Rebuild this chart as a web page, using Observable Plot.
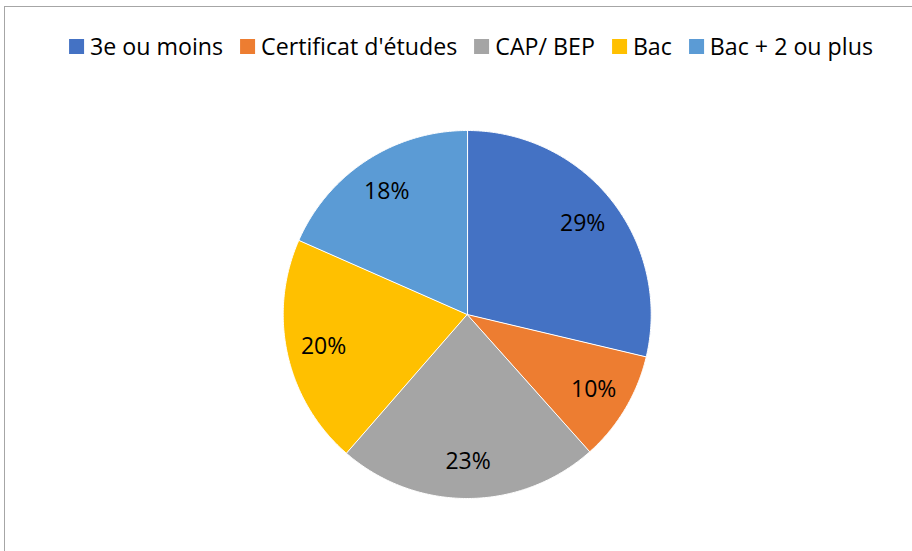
<!DOCTYPE html>
<html><head><meta charset="utf-8">
<script src="https://cdn.jsdelivr.net/npm/d3@7"></script>
<script src="https://cdn.jsdelivr.net/npm/@observablehq/plot@0.6"></script>
<style>
body{margin:0;background:#fff;font-family:"Open Sans",sans-serif;}
#wrap{position:relative;width:912px;height:551px;overflow:hidden;background:#fff;}
#frame{position:absolute;left:4px;top:6px;width:940px;height:580px;border-left:1px solid #a6a6a6;border-top:1px solid #a6a6a6;}
#legend{position:absolute;top:31px;left:471px;transform:translateX(-50%);display:flex;white-space:nowrap;font-size:23.2px;line-height:30px;color:#000;}
.item{display:flex;align-items:center;margin-right:17px;}
.item:last-child{margin-right:0;}
.sw{width:15px;height:15px;margin-right:6px;flex:none;}
#chart{position:absolute;left:0;top:80px;}
</style></head><body>
<div id="wrap"><div id="frame"></div><div id="legend"></div><div id="chart"></div></div>
<script>
const categories = ["3e ou moins", "Certificat d'études", "CAP/ BEP", "Bac", "Bac + 2 ou plus"];
const values = [28.7, 9.7, 23.0, 20.2, 18.4];
const colors = ["#4472C4", "#ED7D31", "#A5A5A5", "#FFC000", "#5B9BD5"];

const data = categories.map((c, i) => ({cat: c, value: values[i]}));
const total = d3.sum(values);
const arcs = d3.pie().sort(null).value(d => d.value)(data);

// polygon vertices for each slice (unit circle, angle 0 at top, clockwise)
const points = [];
for (const a of arcs) {
  points.push({cat: a.data.cat, x: 0, y: 0});
  const n = Math.max(2, Math.ceil((a.endAngle - a.startAngle) / (Math.PI / 360)));
  for (let k = 0; k <= n; k++) {
    const t = a.startAngle + (a.endAngle - a.startAngle) * k / n;
    points.push({cat: a.data.cat, x: Math.sin(t), y: Math.cos(t)});
  }
}
const labels = arcs.map(a => {
  const m = (a.startAngle + a.endAngle) / 2;
  return {x: 0.8 * Math.sin(m), y: 0.8 * Math.cos(m), label: Math.round(a.data.value / total * 100) + "%"};
});

const plot = Plot.plot({
  width: 912, height: 471,
  marginLeft: 282.7, marginRight: 261.3, marginTop: 50, marginBottom: 53,
  x: {domain: [-1, 1], axis: null},
  y: {domain: [-1, 1], axis: null},
  color: {domain: categories, range: colors},
  style: {fontFamily: "Open Sans", background: "transparent"},
  marks: [
    Plot.line(points, {x: "x", y: "y", z: "cat", fill: "cat", stroke: "white", strokeWidth: 1, curve: "linear-closed"}),
    Plot.text(labels, {x: "x", y: "y", text: "label", fontSize: 23, fill: "black", fontFamily: "Open Sans"})
  ]
});
document.getElementById("chart").appendChild(plot);

const leg = document.getElementById("legend");
categories.forEach((c, i) => {
  const it = document.createElement("div");
  it.className = "item";
  const sw = document.createElement("span");
  sw.className = "sw";
  sw.style.background = colors[i];
  const tx = document.createElement("span");
  tx.textContent = c;
  it.appendChild(sw); it.appendChild(tx);
  leg.appendChild(it);
});
</script>
</body></html>
